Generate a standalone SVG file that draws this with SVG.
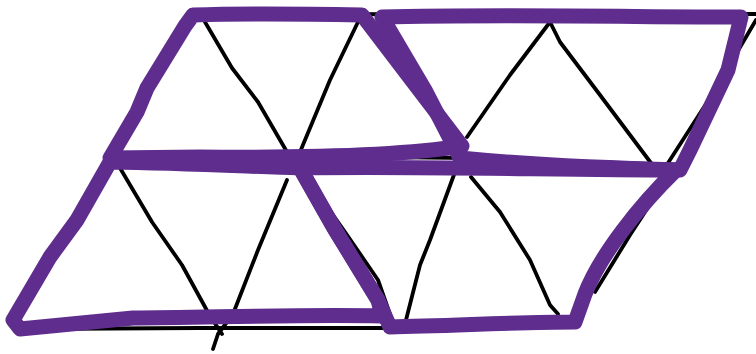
<svg xmlns="http://www.w3.org/2000/svg" width="756" height="354" viewBox="0 0 756 354">
<style>
.g{fill:none;stroke:#000;stroke-width:3.8;stroke-linecap:round;stroke-linejoin:round}
.p{fill:none;stroke:#5f2d8e;stroke-width:15;stroke-linecap:round;stroke-linejoin:round}
</style>
<rect width="756" height="354" fill="#fff"/>
<g id="grid">
<path class="g" d="M195,15 L420,14 L756,14"/>
<path class="g" d="M110,158 L300,156 L470,158 L680,165"/>
<path class="g" d="M20,329 L200,328 L392,328"/>
<path class="g" d="M205,22 L232,68 L258,102 L287,152"/>
<path class="g" d="M358,22 L330,80 L300,152"/>
<path class="g" d="M362,18 L412,80 L462,150"/>
<path class="g" d="M550,22 L510,75 L467,137"/>
<path class="g" d="M550,22 L560,42 L600,95 L651,163"/>
<path class="g" d="M756,20 L715,90 L668,163"/>
<path class="g" d="M120,168 L152,222 L182,265 L210,316 L222,334"/>
<path class="g" d="M287,180 L258,250 L233,314 L218,334 L213,349"/>
<path class="g" d="M300,168 L345,232 L378,280 L392,320"/>
<path class="g" d="M455,172 L430,240 L420,265 L406,320"/>
<path class="g" d="M471,177 L500,212 L530,260 L550,305 L558,314"/>
<path class="g" d="M668,177 L630,235 L595,292"/>
</g>
<g id="shapes">
<path id="topLeft" class="p" d="M193,15 C250,13 310,14 362,15 L410,78 L462,146 C400,156 300,158 200,157 L110,158 L137,112 L147,88 L185,26 Z"/>
<path id="topRight" class="p" d="M382,17 C500,14 640,17 741,17 L728,70 L690,150 L680,170 C600,168 520,164 460,158 L425,90 Z"/>
<path id="bottomLeft" class="p" d="M110,162 C180,163 240,166 300,168 L334,228 L378,300 L382,316 C300,314 200,318 133,318 L20,329 L13,320 L50,257 L77,220 Z"/>
<path id="bottomRight" class="p" d="M300,168 C420,166 560,170 676,170 C640,205 600,255 585,294 L575,322 C520,322 450,326 390,327 L378,300 L334,228 Z"/>
</g>
</svg>
